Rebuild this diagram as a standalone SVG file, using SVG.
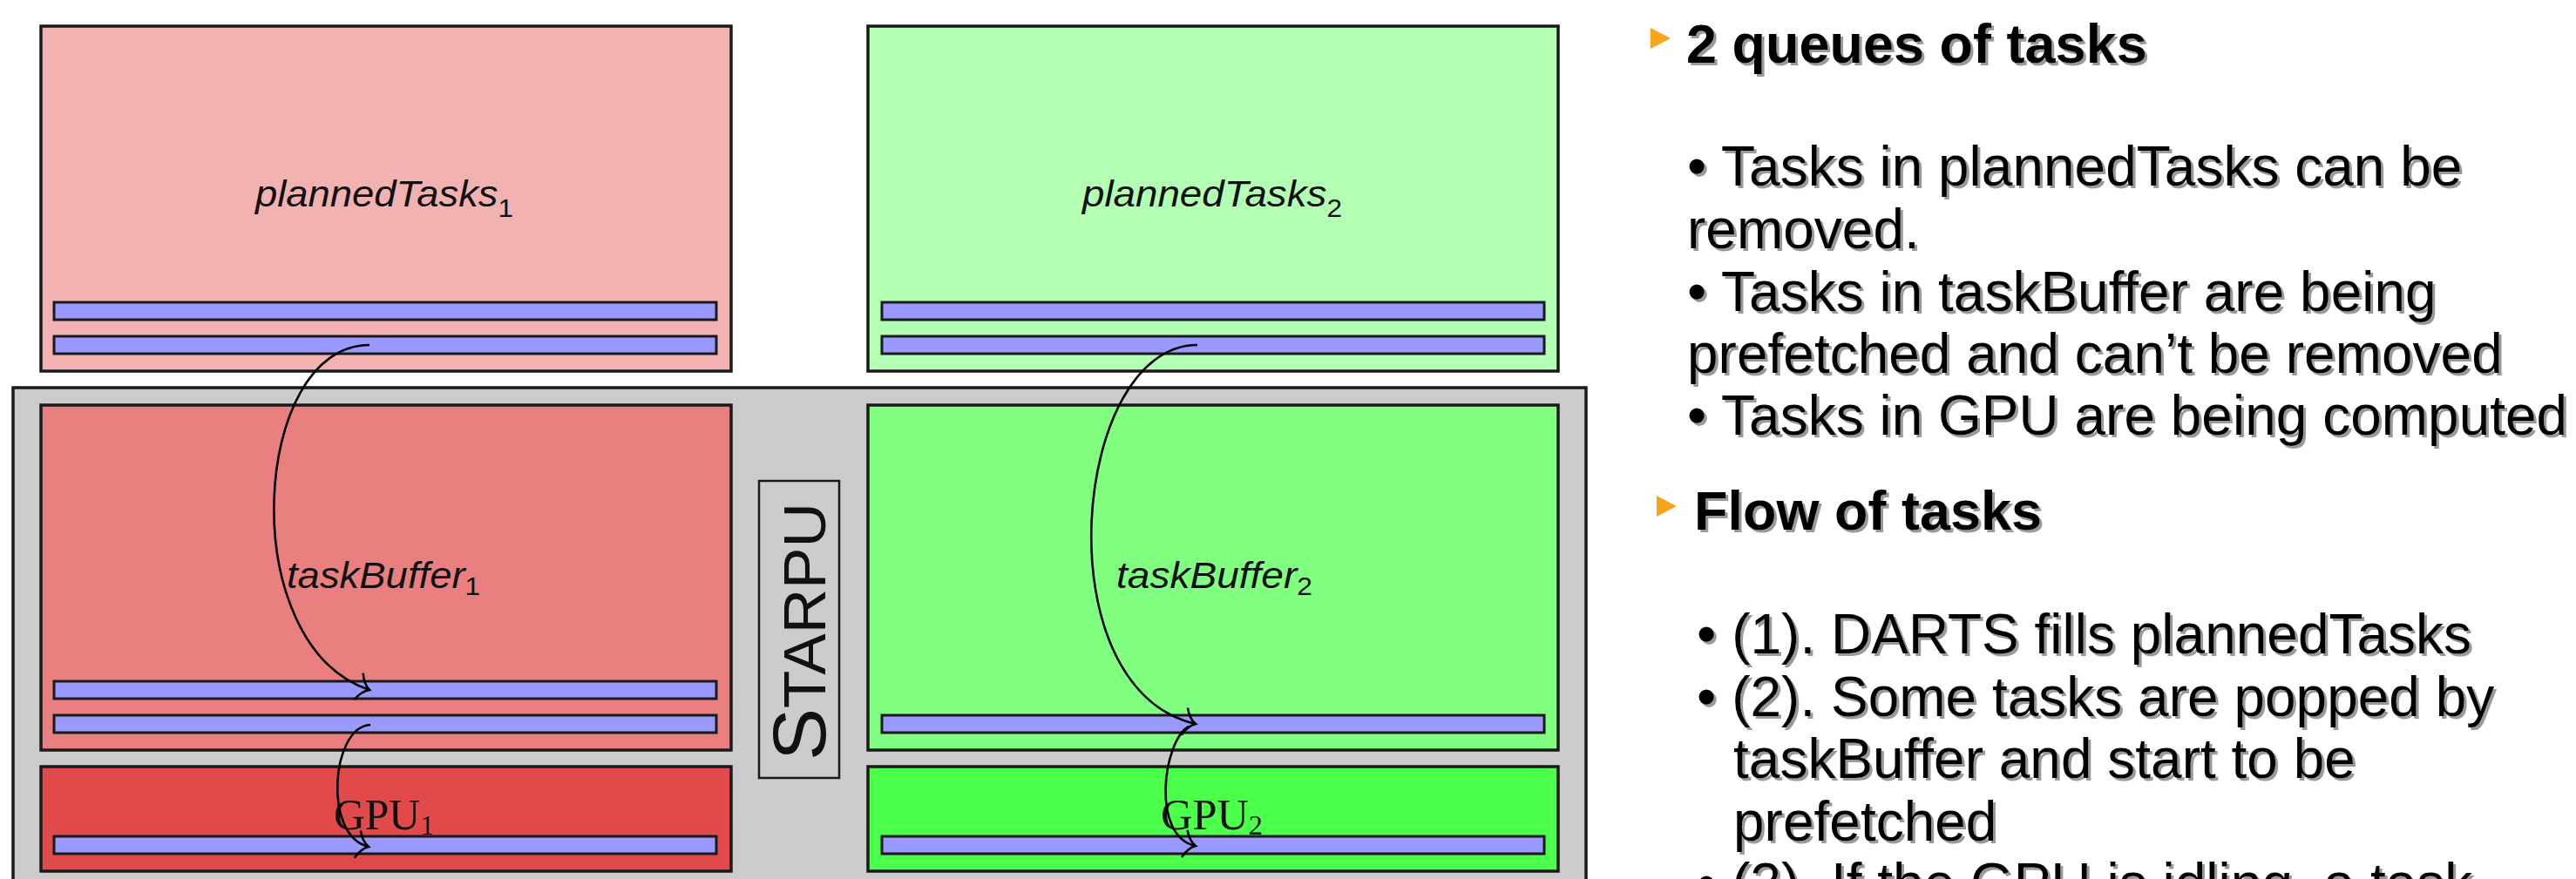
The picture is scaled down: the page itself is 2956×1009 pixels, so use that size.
<svg xmlns="http://www.w3.org/2000/svg" width="2956" height="1009" viewBox="0 0 2956 1009">
<style>
.box{stroke:#1a1a1a;stroke-width:3.5}
.bar{fill:#9999FF;stroke:#1a1a1a;stroke-width:3}
.lab{font-family:"Liberation Sans",Arial,sans-serif;font-style:italic;font-size:42px;fill:#111}
.sub{font-size:29px;font-style:normal}
.gpu{font-family:"Liberation Serif","Times New Roman",serif;font-size:50px;fill:#111}
.gsub{font-size:32px}
.conn{fill:none;stroke:#000;stroke-width:2.6}
.txt{font-family:"Liberation Sans",Arial,sans-serif;font-size:64px;fill:#000;filter:url(#shadow)}
.hd{font-weight:bold;font-size:63px}
.tri{fill:#F8A51C}
</style>
<defs>
<filter id="shadow" x="-5%" y="-30%" width="110%" height="160%">
<feDropShadow dx="3" dy="3" stdDeviation="0.6" flood-color="#9a9a9a" flood-opacity="1"/>
</filter>
<marker id="to" viewBox="-16 -19 18 38" markerWidth="18" markerHeight="38" refX="0" refY="0" orient="auto" markerUnits="userSpaceOnUse" overflow="visible">
<path d="M-13,-16 C-9,-6 -4,-2 0,0 C-4,2 -9,6 -13,16" fill="none" stroke="#000" stroke-width="2.6"/>
</marker>
</defs>
<rect width="2956" height="1009" fill="#fff"/>

<g id="plannedTasks1">
<rect class="box" x="47" y="30" width="792" height="396" fill="#F3B2B2"/>
<rect class="bar" x="62" y="347" width="760" height="20"/>
<rect class="bar" x="62" y="386" width="760" height="20"/>
<text class="lab" x="293" y="237" textLength="296" lengthAdjust="spacingAndGlyphs">plannedTasks<tspan class="sub" dy="12">1</tspan></text>
</g>

<g id="plannedTasks2">
<rect class="box" x="996" y="30" width="792" height="396" fill="#B3FFB3"/>
<rect class="bar" x="1012" y="347" width="760" height="20"/>
<rect class="bar" x="1012" y="386" width="760" height="20"/>
<text class="lab" x="1242" y="237" textLength="298" lengthAdjust="spacingAndGlyphs">plannedTasks<tspan class="sub" dy="12">2</tspan></text>
</g>

<g id="starpu">
<rect x="15" y="445" width="1805" height="600" fill="#CCCCCC" stroke="#1a1a1a" stroke-width="3.5"/>
<rect x="871" y="552" width="92" height="341" fill="none" stroke="#1a1a1a" stroke-width="2.5"/>
<text transform="translate(947,873) rotate(-90)" x="0" y="0" font-family="'Liberation Sans',Arial,sans-serif" fill="#111" textLength="296" lengthAdjust="spacingAndGlyphs"><tspan font-size="86">S</tspan><tspan font-size="68">TARPU</tspan></text>
</g>

<g id="taskBuffer1">
<rect class="box" x="47" y="465" width="792" height="396" fill="#E97F7F"/>
<rect class="bar" x="62" y="782" width="760" height="20"/>
<rect class="bar" x="62" y="821" width="760" height="20"/>
<text class="lab" x="329" y="675" textLength="222" lengthAdjust="spacingAndGlyphs">taskBuffer<tspan class="sub" dy="8">1</tspan></text>
</g>

<g id="taskBuffer2">
<rect class="box" x="996" y="465" width="792" height="396" fill="#80FF80"/>
<rect class="bar" x="1012" y="821" width="760" height="20"/>
<text class="lab" x="1281" y="675" textLength="225" lengthAdjust="spacingAndGlyphs">taskBuffer<tspan class="sub" dy="8">2</tspan></text>
</g>

<g id="GPU1">
<rect class="box" x="47" y="880" width="792" height="120" fill="#E04A4A"/>
<rect class="bar" x="62" y="960" width="760" height="20"/>
<text class="gpu" x="383" y="952" textLength="115" lengthAdjust="spacingAndGlyphs">GPU<tspan class="gsub" dy="6">1</tspan></text>
</g>

<g id="GPU2">
<rect class="box" x="996" y="880" width="792" height="120" fill="#4BFF4B"/>
<rect class="bar" x="1012" y="960" width="760" height="20"/>
<text class="gpu" x="1332" y="952" textLength="117" lengthAdjust="spacingAndGlyphs">GPU<tspan class="gsub" dy="6">2</tspan></text>
</g>

<g id="connectors">
<path class="conn" d="M424,396 C288,396 268,740 424,792" marker-end="url(#to)"/>
<path class="conn" d="M425,832 C380,834 370,960 423,972" marker-end="url(#to)"/>
<path class="conn" d="M1374,396 C1230,396 1195,790 1372,831" marker-end="url(#to)"/>
<path class="conn" d="M1364,834 C1335,850 1320,960 1372,971" marker-end="url(#to)"/>
</g>

<g id="notes">
<polygon class="tri" points="1894,32 1917,44 1894,56"/>
<text class="txt hd" x="1935" y="72">2 queues of tasks</text>
<text class="txt" x="1936" y="213">• Tasks in plannedTasks can be</text>
<text class="txt" x="1936" y="285">removed.</text>
<text class="txt" x="1936" y="357">• Tasks in taskBuffer are being</text>
<text class="txt" x="1936" y="428">prefetched and can’t be removed</text>
<text class="txt" x="1936" y="499">• Tasks in GPU are being computed</text>
<polygon class="tri" points="1901,569 1924,581 1901,593"/>
<text class="txt hd" x="1944" y="608">Flow of tasks</text>
<text class="txt" x="1947" y="750">• (1). DARTS fills plannedTasks</text>
<text class="txt" x="1947" y="822">• (2). Some tasks are popped by</text>
<text class="txt" x="1989" y="893">taskBuffer and start to be</text>
<text class="txt" x="1989" y="965">prefetched</text>
<text class="txt" x="1947" y="1036">• (3). If the GPU is idling, a task</text>
</g>
</svg>
